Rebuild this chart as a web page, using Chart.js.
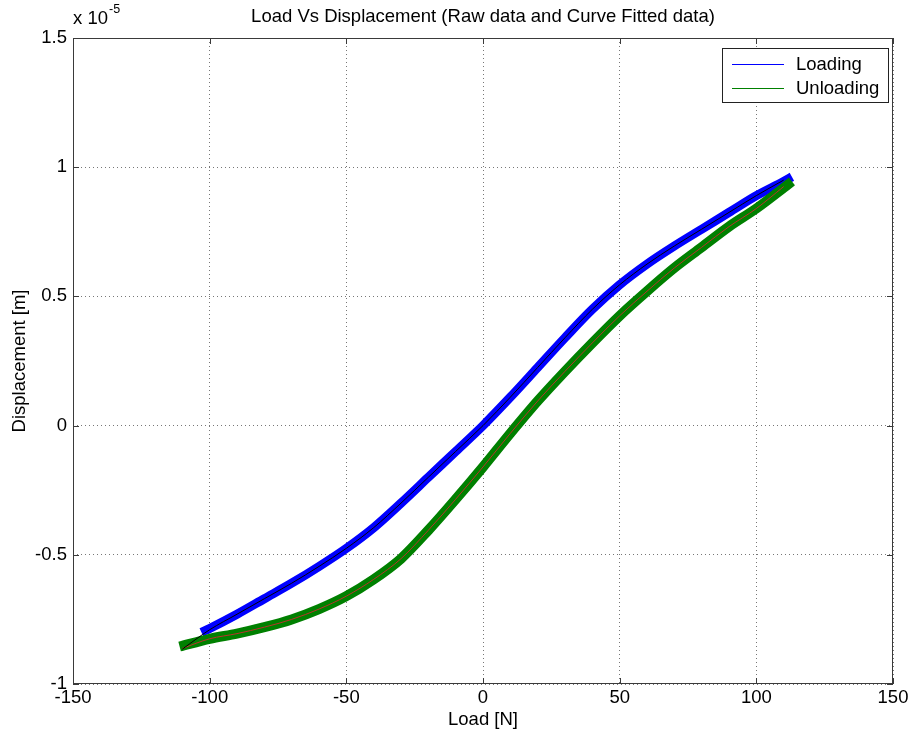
<!DOCTYPE html>
<html><head><meta charset="utf-8">
<script src="https://cdn.jsdelivr.net/npm/chart.js@4/dist/chart.umd.min.js"></script>
<style>html,body{margin:0;padding:0;background:#fff}</style>
</head><body>
<canvas id="c" width="912" height="736"></canvas>
<script>
// Displacement values are in units of 1e-5 m (axis multiplier "x 10^-5")
const xTicks = [-150, -100, -50, 0, 50, 100, 150];
const yTicks = [-1, -0.5, 0, 0.5, 1, 1.5];

// Raw data (Loading, blue)
const loadX = [-103, -100, -90, -80, -70, -60, -50, -40, -30, -20, -10, 0, 10, 20, 30, 40, 50, 60, 70, 80, 90, 100, 110, 113];
const loadY = [-0.80, -0.785, -0.73, -0.67, -0.61, -0.545, -0.475, -0.395, -0.30, -0.20, -0.10, 0.0, 0.11, 0.225, 0.34, 0.45, 0.545, 0.625, 0.695, 0.76, 0.825, 0.89, 0.945, 0.963];

// Raw data (Unloading, green)
const unloadX = [-111, -100, -90, -80, -70, -60, -50, -40, -30, -20, -10, 0, 10, 20, 30, 40, 50, 60, 70, 80, 90, 100, 110, 113];
const unloadY = [-0.855, -0.825, -0.805, -0.78, -0.75, -0.71, -0.66, -0.595, -0.515, -0.405, -0.285, -0.16, -0.03, 0.095, 0.21, 0.32, 0.425, 0.52, 0.61, 0.69, 0.77, 0.84, 0.92, 0.945];

// Curve fits
const loadFitX = [-110, -100, -90, -80, -70, -60, -50, -40, -30, -20, -10, 0, 10, 20, 30, 40, 50, 60, 70, 80, 90, 100, 110];
const loadFitY = [-0.865, -0.79, -0.73, -0.67, -0.61, -0.545, -0.475, -0.395, -0.30, -0.20, -0.10, 0.0, 0.11, 0.225, 0.34, 0.45, 0.545, 0.625, 0.695, 0.76, 0.825, 0.89, 0.95];
const unloadFitX = [-110, -100, -90, -80, -70, -60, -50, -40, -30, -20, -10, 0, 10, 20, 30, 40, 50, 60, 70, 80, 90, 100, 110];
const unloadFitY = [-0.862, -0.825, -0.805, -0.78, -0.75, -0.71, -0.66, -0.595, -0.515, -0.405, -0.285, -0.16, -0.03, 0.095, 0.21, 0.32, 0.425, 0.52, 0.61, 0.69, 0.77, 0.84, 0.925];

const seriesNames = ['Loading', 'Unloading'];
const titleText = 'Load Vs Displacement (Raw data and Curve Fitted data)';
const xTitle = 'Load [N]';
const yTitle = 'Displacement [m]';

const FONT = '"Liberation Sans", Arial, sans-serif';
const FS = 18.5;
const toPts = (xs, ys) => xs.map((x, i) => ({x: x, y: ys[i]}));

const decor = {
  id: 'decor',
  afterDraw(chart) {
    const ctx = chart.ctx, a = chart.chartArea;
    const xs = chart.scales.x, ys = chart.scales.y;
    ctx.save();
    // box
    ctx.strokeStyle = '#3a3a3a'; ctx.lineWidth = 1;
    ctx.strokeRect(a.left + 0.5, a.top + 0.5, a.right - a.left - 1, a.bottom - a.top - 1);
    // inward ticks
    ctx.beginPath();
    xTicks.forEach(v => {
      const p = Math.round(xs.getPixelForValue(v)) + 0.5;
      ctx.moveTo(p, a.bottom); ctx.lineTo(p, a.bottom - 6);
      ctx.moveTo(p, a.top); ctx.lineTo(p, a.top + 6);
    });
    yTicks.forEach(v => {
      const p = Math.round(ys.getPixelForValue(v)) + 0.5;
      ctx.moveTo(a.left, p); ctx.lineTo(a.left + 6, p);
      ctx.moveTo(a.right, p); ctx.lineTo(a.right - 6, p);
    });
    ctx.stroke();
    ctx.fillStyle = '#000';
    // title
    ctx.font = FS + 'px ' + FONT;
    ctx.textAlign = 'center'; ctx.textBaseline = 'middle';
    ctx.fillText(titleText, (a.left + a.right) / 2, 17);
    // multiplier
    ctx.textAlign = 'left';
    ctx.fillText('x 10', a.left, 19);
    const w = ctx.measureText('x 10').width;
    ctx.font = '12.5px ' + FONT;
    ctx.fillText('-5', a.left + w + 1, 10);
    // axis titles
    ctx.font = FS + 'px ' + FONT;
    ctx.textAlign = 'center';
    ctx.fillText(xTitle, (a.left + a.right) / 2, 720);
    ctx.save();
    ctx.translate(20, (a.top + a.bottom) / 2);
    ctx.rotate(-Math.PI / 2);
    ctx.fillText(yTitle, 0, 0);
    ctx.restore();
    // legend
    const lx = 722, ly = 48, lw = 166, lh = 54;
    ctx.fillStyle = '#fff';
    ctx.fillRect(lx, ly, lw, lh);
    ctx.strokeStyle = '#222';
    ctx.strokeRect(lx + 0.5, ly + 0.5, lw, lh);
    const legColors = [chart.data.datasets[0].borderColor, chart.data.datasets[1].borderColor];
    seriesNames.forEach((n, i) => {
      const yy = ly + 16 + i * 24;
      ctx.strokeStyle = legColors[i];
      ctx.lineWidth = 1;
      ctx.beginPath(); ctx.moveTo(732, yy + 0.5); ctx.lineTo(784, yy + 0.5); ctx.stroke();
      ctx.fillStyle = '#000';
      ctx.textAlign = 'left';
      ctx.font = FS + 'px ' + FONT;
      ctx.fillText(n, 796, yy + 1);
    });
    ctx.restore();
  }
};

new Chart(document.getElementById('c'), {
  type: 'scatter',
  data: {
    datasets: [
      {label: seriesNames[0], data: toPts(loadX, loadY), borderColor: '#0000ff', backgroundColor: '#0000ff', borderWidth: 9, showLine: true, pointRadius: 0, cubicInterpolationMode: 'monotone', order: 3},
      {label: seriesNames[1], data: toPts(unloadX, unloadY), borderColor: '#008000', backgroundColor: '#008000', borderWidth: 10, showLine: true, pointRadius: 0, cubicInterpolationMode: 'monotone', order: 2},
      {label: 'Loading fit', data: toPts(loadFitX, loadFitY), borderColor: '#000000', borderWidth: 1, showLine: true, pointRadius: 0, cubicInterpolationMode: 'monotone', order: 0},
      {label: 'Unloading fit', data: toPts(unloadFitX, unloadFitY), borderColor: '#b8322a', borderWidth: 1, showLine: true, pointRadius: 0, cubicInterpolationMode: 'monotone', order: 1}
    ]
  },
  options: {
    responsive: false,
    animation: false,
    devicePixelRatio: 1,
    layout: {padding: {left: 0, right: 19, top: 38, bottom: 0}},
    plugins: {legend: {display: false}, title: {display: false}, tooltip: {enabled: false}},
    scales: {
      x: {
        type: 'linear', min: -150, max: 150,
        afterFit: s => { s.height = 52; },
        afterBuildTicks: s => { s.ticks = xTicks.map(v => ({value: v})); },
        ticks: {font: {family: FONT, size: FS}, color: '#000', padding: 3, maxRotation: 0, callback: v => String(v)},
        grid: {color: '#777', lineWidth: 1, drawTicks: false},
        border: {display: false, dash: [1, 3]}
      },
      y: {
        type: 'linear', min: -1, max: 1.5,
        afterFit: s => { s.width = 73; },
        afterBuildTicks: s => { s.ticks = yTicks.map(v => ({value: v})); },
        ticks: {font: {family: FONT, size: FS}, color: '#000', padding: 6, callback: v => String(v)},
        grid: {color: '#777', lineWidth: 1, drawTicks: false},
        border: {display: false, dash: [1, 3]}
      }
    }
  },
  plugins: [decor]
});
</script>
</body></html>
